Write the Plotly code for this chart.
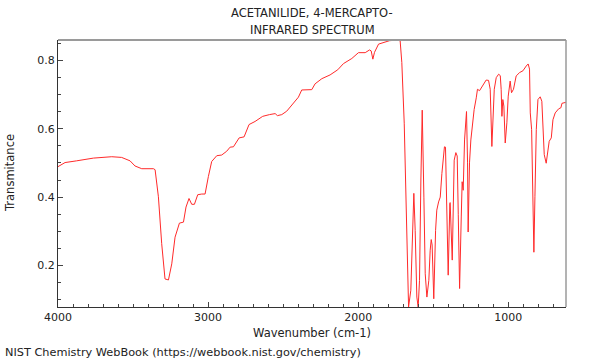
import plotly.graph_objects as go

# Wavenumber (cm-1) and transmittance values
wavenumber = [4000, 3953, 3876, 3764, 3642, 3576, 3520, 3487, 3442, 3364, 3353, 3331, 3309, 3287,
              3264, 3242, 3220, 3191, 3164, 3147, 3127, 3109, 3091, 3069, 3042, 3020, 2998, 2976,
              2942, 2909, 2876, 2853, 2831, 2793, 2760, 2727, 2687, 2636, 2591, 2553, 2538, 2509,
              2476, 2431, 2398, 2376, 2309, 2287, 2242, 2187, 2136, 2098, 2042, 1998, 1953, 1924,
              1913, 1902, 1891, 1864, 1831, 1791, 1760, 1731, 1720, 1709, 1693, 1682, 1671, 1664,
              1649, 1638, 1629, 1620, 1609, 1600, 1591, 1582, 1573, 1562, 1553, 1542, 1529, 1520,
              1513, 1507, 1496, 1484, 1476, 1464, 1453, 1442, 1431, 1425, 1418, 1409, 1400, 1389,
              1387, 1373, 1360, 1349, 1340, 1333, 1324, 1313, 1307, 1300, 1291, 1278, 1271, 1267,
              1258, 1249, 1236, 1227, 1213, 1205, 1191, 1171, 1147, 1131, 1120, 1109, 1102, 1093,
              1080, 1064, 1053, 1047, 1042, 1036, 1029, 1020, 1009, 1000, 987, 978, 965, 947, 924,
              902, 880, 867, 858, 853, 844, 838, 829, 822, 813, 802, 787, 776, 769, 760, 747, 736,
              727, 713, 702, 687, 664, 649, 642, 615]
transmittance = [0.489, 0.501, 0.506, 0.514, 0.518, 0.516, 0.506, 0.491, 0.483, 0.483, 0.480, 0.401,
                 0.264, 0.161, 0.158, 0.205, 0.283, 0.324, 0.327, 0.371, 0.396, 0.379, 0.379, 0.407,
                 0.409, 0.409, 0.460, 0.504, 0.521, 0.523, 0.534, 0.546, 0.547, 0.573, 0.576, 0.612,
                 0.621, 0.636, 0.641, 0.644, 0.638, 0.641, 0.651, 0.676, 0.692, 0.713, 0.714, 0.731,
                 0.746, 0.757, 0.772, 0.790, 0.805, 0.822, 0.822, 0.830, 0.827, 0.803, 0.823, 0.847,
                 0.852, 0.857, 0.858, 0.859, 0.856, 0.793, 0.616, 0.400, 0.147, 0.079, 0.128, 0.284,
                 0.411, 0.303, 0.108, 0.079, 0.157, 0.450, 0.654, 0.400, 0.176, 0.108, 0.157, 0.245,
                 0.276, 0.260, 0.103, 0.303, 0.362, 0.386, 0.400, 0.469, 0.537, 0.547, 0.546, 0.342,
                 0.172, 0.381, 0.384, 0.216, 0.508, 0.530, 0.520, 0.350, 0.133, 0.342, 0.445, 0.420,
                 0.567, 0.650, 0.500, 0.298, 0.500, 0.567, 0.617, 0.656, 0.690, 0.715, 0.711, 0.726,
                 0.742, 0.741, 0.715, 0.548, 0.646, 0.715, 0.749, 0.759, 0.755, 0.715, 0.636, 0.685,
                 0.666, 0.558, 0.617, 0.695, 0.739, 0.705, 0.715, 0.754, 0.764, 0.769, 0.783, 0.789,
                 0.774, 0.646, 0.597, 0.401, 0.239, 0.401, 0.597, 0.685, 0.693, 0.680, 0.597, 0.524,
                 0.499, 0.528, 0.563, 0.573, 0.626, 0.646, 0.658, 0.661, 0.674, 0.677]

x_ticks = [4000, 3000, 2000, 1000]
y_ticks = [0.2, 0.4, 0.6, 0.8]
x_range = [4000, 615]
y_range = [0.079, 0.859]

title_lines = ["ACETANILIDE, 4-MERCAPTO-", "INFRARED SPECTRUM"]
x_title = "Wavenumber (cm-1)"
y_title = "Transmitance"
footer = "NIST Chemistry WebBook (https://webbook.nist.gov/chemistry)"

FONT = "DejaVu Sans"
TXT = "#222222"

fig = go.Figure()
fig.add_trace(go.Scatter(x=wavenumber, y=transmittance, mode="lines",
                         line=dict(color="#ff2a2a", width=1), hoverinfo="skip",
                         showlegend=False))

axis_common = dict(showgrid=False, zeroline=False, showline=True, linecolor="#333333",
                   linewidth=1, ticks="inside", ticklen=5, tickwidth=1, tickcolor="#444444",
                   tickfont=dict(family=FONT, size=11, color=TXT), mirror=False)

fig.update_xaxes(range=x_range, tickvals=x_ticks, ticktext=[str(v) for v in x_ticks],
                 minor=dict(dtick=100, tick0=0, ticks="inside", ticklen=3, tickcolor="#444444"),
                 **axis_common)
fig.update_yaxes(range=y_range, tickvals=y_ticks, ticktext=[f"{v:.1f}" for v in y_ticks],
                 minor=dict(dtick=0.05, tick0=0, ticks="inside", ticklen=3, tickcolor="#444444"),
                 **axis_common)

PT, PB, PL, PR = 40, 53, 58, 34
H = 360 - PT - PB
W = 600 - PL - PR

def py(pix):
    return (360 - PB - pix) / H

def px(pix):
    return (pix - PL) / W

annotations = [
    dict(text=title_lines[0], x=0.5, y=py(13), xref="paper", yref="paper",
         xanchor="center", yanchor="middle", showarrow=False,
         font=dict(family=FONT, size=11.5, color=TXT)),
    dict(text=title_lines[1], x=0.5, y=py(30), xref="paper", yref="paper",
         xanchor="center", yanchor="middle", showarrow=False,
         font=dict(family=FONT, size=11.5, color=TXT)),
    dict(text=x_title, x=0.5, y=py(333), xref="paper", yref="paper",
         xanchor="center", yanchor="middle", showarrow=False,
         font=dict(family=FONT, size=11.5, color=TXT)),
    dict(text=y_title, x=px(10), y=py(173), xref="paper", yref="paper",
         xanchor="center", yanchor="middle", showarrow=False, textangle=-90,
         font=dict(family=FONT, size=11.5, color=TXT)),
    dict(text=footer, x=px(3), y=py(352), xref="paper", yref="paper",
         xanchor="left", yanchor="middle", showarrow=False,
         font=dict(family=FONT, size=11.3, color=TXT)),
]

shapes = [
    dict(type="line", xref="paper", yref="paper", x0=0, x1=1, y0=1, y1=1,
         line=dict(color="#9a9a9a", width=2)),
    dict(type="line", xref="paper", yref="paper", x0=1, x1=1, y0=0, y1=1,
         line=dict(color="#9a9a9a", width=1.5)),
]

fig.update_layout(width=600, height=360, margin=dict(l=PL, r=PR, t=PT, b=PB),
                  paper_bgcolor="white", plot_bgcolor="white",
                  annotations=annotations, shapes=shapes, showlegend=False)

fig.write_html("out.html")
